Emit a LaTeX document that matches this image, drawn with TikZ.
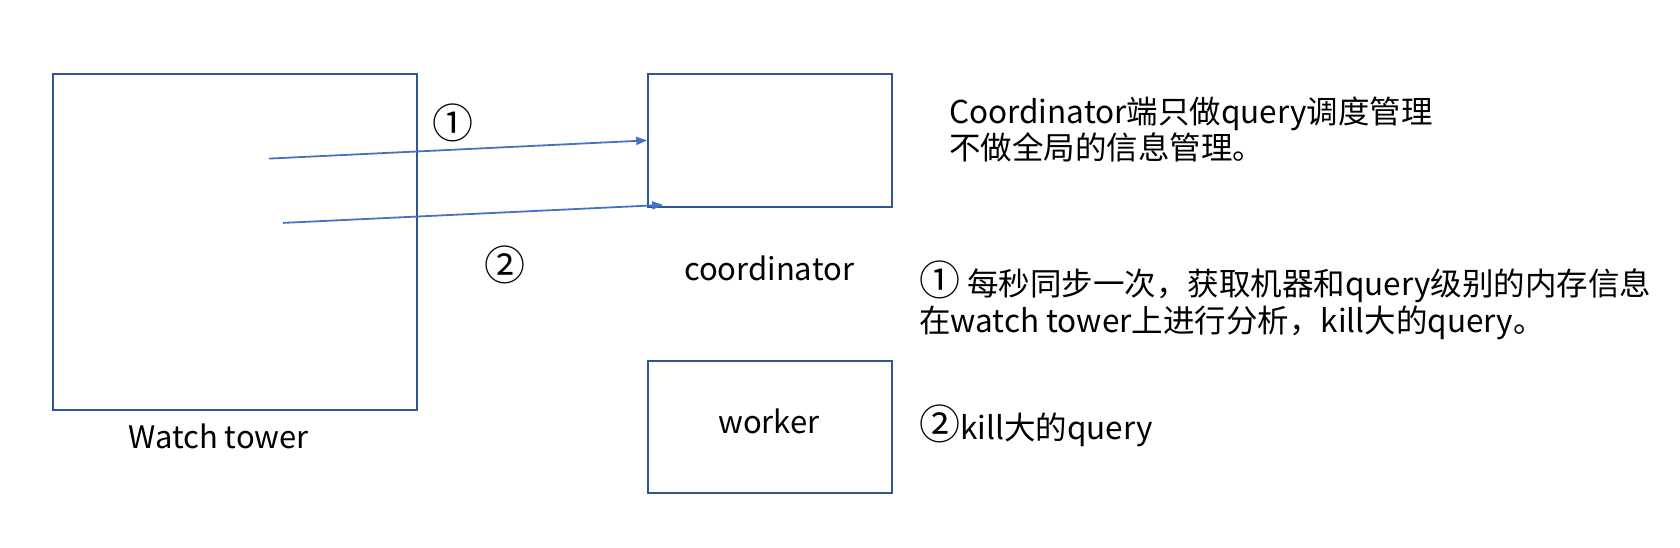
\documentclass[tikz,border=0pt]{standalone}
\usepackage{fontspec}
\setmainfont{Noto Sans CJK SC}
\usepackage{xcolor}
\usetikzlibrary{arrows.meta, positioning, calc}
\definecolor{boxblue}{HTML}{2F5597}
\definecolor{arrblue}{HTML}{4472C4}
\newcommand{\circnum}[1]{{\fontsize{41}{36.5}\selectfont #1}}

\begin{document}
\begin{tikzpicture}[x=1pt,y=-1pt]
\tikzset{
  bx/.style={rectangle,draw=boxblue,line width=2pt,inner sep=0pt},
  lb/.style={inner sep=0pt,font=\fontsize{31}{36.5}\selectfont},
  nt/.style={inner sep=0pt,align=left,anchor=west,font=\fontsize{31.5}{36.5}\selectfont},
  ar/.style={-{Triangle[length=11pt,width=8pt]},line width=1.8pt,draw=arrblue}
}
\useasboundingbox (0,0) rectangle (1680,548);
\node[bx,minimum width=364pt,minimum height=336pt] (wt) at (234.6,242.2) {};
\node[bx,minimum width=244pt,minimum height=133pt] (co) at (770.2,140.4) {};
\node[bx,minimum width=244pt,minimum height=132pt] (wk) at (770.2,427) {};
\node[lb] (wtl) at (218.6,436) {Watch tower};
\node[lb] (col) at (769,268) {coordinator};
\node[lb] (wkl) at (769,421) {worker};
\node[lb] (n1) at (453,123) {\circnum{①}};
\node[lb] (n2) at (504.6,264.6) {\circnum{②}};
% arrows
\coordinate (s1) at (269,158.6);
\coordinate (s2) at (283,222.9);
\coordinate (e2) at ($(co.south west)+(16,-3)$);
\draw[ar] (s1) -- (co.west);
\draw[ar] (s2) -- (e2);
% notes
\node[nt] (t1) at (949,129.6) {Coordinator端只做query调度管理\\不做全局的信息管理。};
\node[nt] (t2) at (919,300.5) {\circnum{①} 每秒同步一次，获取机器和query级别的内存信息\\在watch tower上进行分析，kill大的query。};
\node[nt] (t3) at (919,426) {\circnum{②}kill大的query};
\end{tikzpicture}
\end{document}
